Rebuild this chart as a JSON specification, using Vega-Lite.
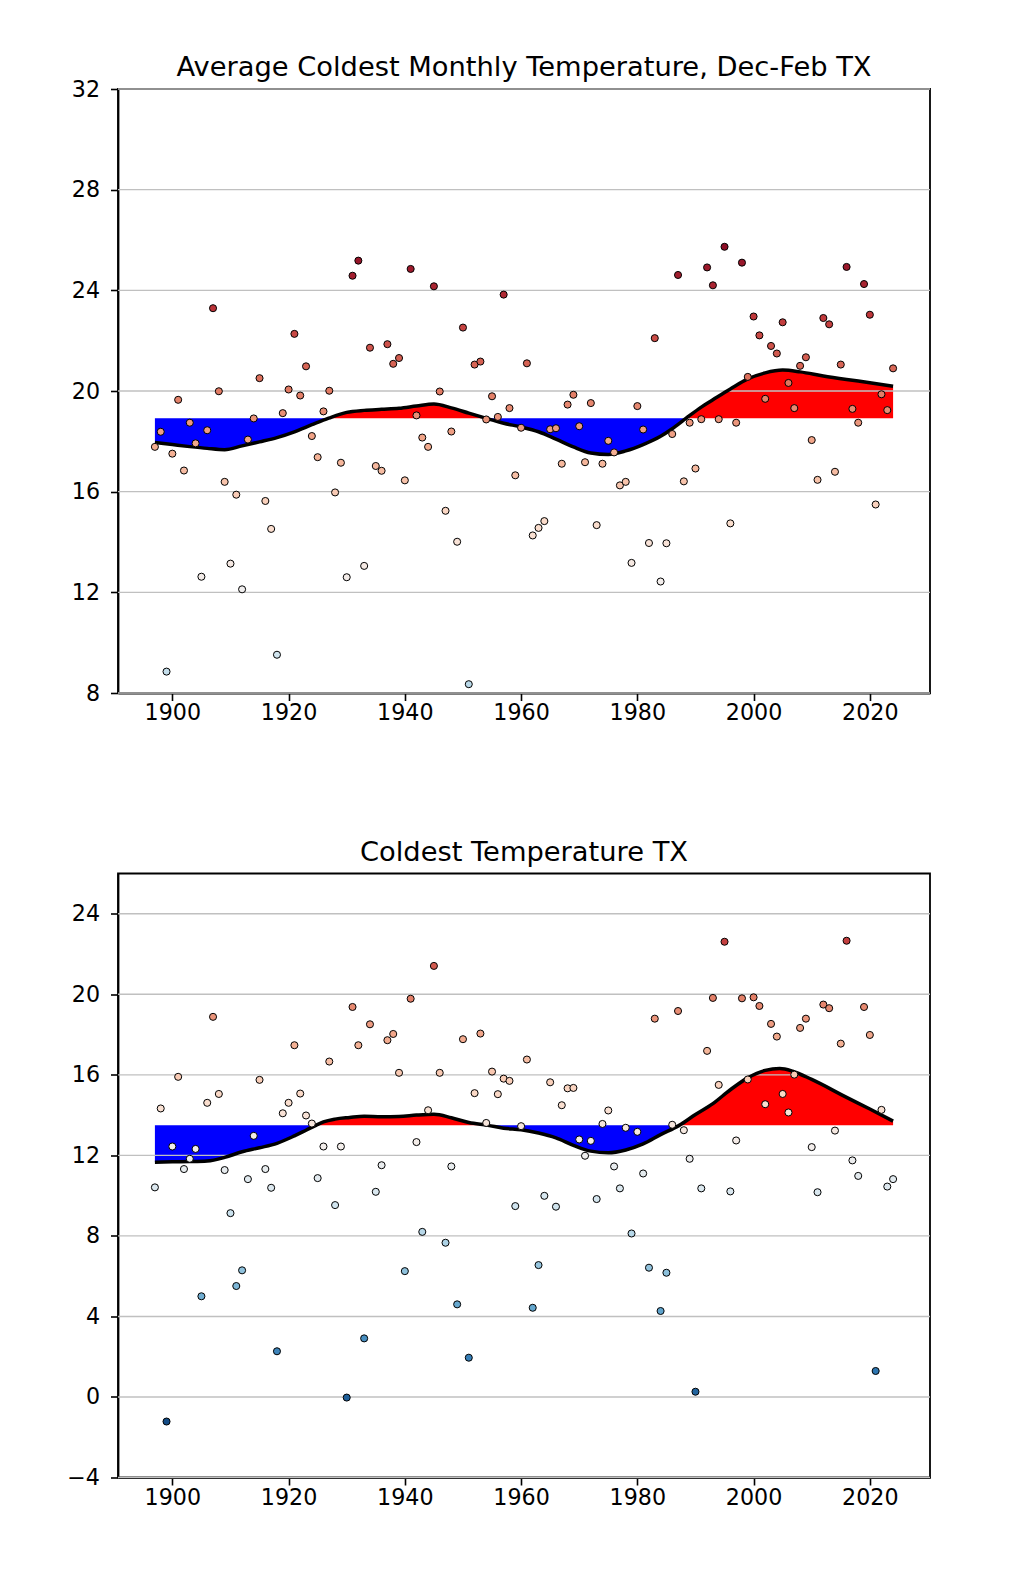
{
  "$schema": "https://vega.github.io/schema/vega-lite/v6.json",
  "background": "white",
  "padding": {"left": 65, "top": 52, "right": 10, "bottom": 10},
  "spacing": 112.5,
  "config": {
    "font": "DejaVu Sans",
    "view": {"stroke": "black", "strokeWidth": 1.8},
    "axis": {"labelFont": "DejaVu Sans", "labelFontSize": 22.2, "labelColor": "black", "tickColor": "black", "tickWidth": 1.6, "tickSize": 7.5, "domainColor": "black", "domainWidth": 1.8, "grid": false},
    "axisX": {"labelPadding": 1},
    "axisY": {"labelPadding": 11},
    "title": {"font": "DejaVu Sans", "fontSize": 27.3, "fontWeight": "normal", "color": "black", "anchor": "middle", "baseline": "alphabetic"}
  },
  "datasets": {
    "top_points": [
      {"year":1897,"temp":17.78},{"year":1898,"temp":18.38},{"year":1899,"temp":8.85},{"year":1900,"temp":17.51},{"year":1901,"temp":19.65},{"year":1902,"temp":16.84},{"year":1903,"temp":18.74},{"year":1904,"temp":17.92},{"year":1905,"temp":12.62},{"year":1906,"temp":18.44},
      {"year":1907,"temp":23.29},{"year":1908,"temp":19.99},{"year":1909,"temp":16.39},{"year":1910,"temp":13.14},{"year":1911,"temp":15.88},{"year":1912,"temp":12.12},{"year":1913,"temp":18.07},{"year":1914,"temp":18.91},{"year":1915,"temp":20.51},{"year":1916,"temp":15.63},
      {"year":1917,"temp":14.52},{"year":1918,"temp":9.52},{"year":1919,"temp":19.12},{"year":1920,"temp":20.06},{"year":1921,"temp":22.27},{"year":1922,"temp":19.82},{"year":1923,"temp":20.98},{"year":1924,"temp":18.21},{"year":1925,"temp":17.37},{"year":1926,"temp":19.19},
      {"year":1927,"temp":20.01},{"year":1928,"temp":15.97},{"year":1929,"temp":17.15},{"year":1930,"temp":12.60},{"year":1931,"temp":24.58},{"year":1932,"temp":25.18},{"year":1933,"temp":13.05},{"year":1934,"temp":21.72},{"year":1935,"temp":17.02},{"year":1936,"temp":16.83},
      {"year":1937,"temp":21.86},{"year":1938,"temp":21.08},{"year":1939,"temp":21.31},{"year":1940,"temp":16.45},{"year":1941,"temp":24.85},{"year":1942,"temp":19.03},{"year":1943,"temp":18.15},{"year":1944,"temp":17.78},{"year":1945,"temp":24.16},{"year":1946,"temp":19.98},
      {"year":1947,"temp":15.24},{"year":1948,"temp":18.39},{"year":1949,"temp":14.01},{"year":1950,"temp":22.52},{"year":1951,"temp":8.35},{"year":1952,"temp":21.05},{"year":1953,"temp":21.17},{"year":1954,"temp":18.87},{"year":1955,"temp":19.79},{"year":1956,"temp":18.97},
      {"year":1957,"temp":23.83},{"year":1958,"temp":19.32},{"year":1959,"temp":16.65},{"year":1960,"temp":18.54},{"year":1961,"temp":21.10},{"year":1962,"temp":14.26},{"year":1963,"temp":14.56},{"year":1964,"temp":14.83},{"year":1965,"temp":18.48},{"year":1966,"temp":18.52},
      {"year":1967,"temp":17.11},{"year":1968,"temp":19.46},{"year":1969,"temp":19.85},{"year":1970,"temp":18.60},{"year":1971,"temp":17.17},{"year":1972,"temp":19.52},{"year":1973,"temp":14.67},{"year":1974,"temp":17.11},{"year":1975,"temp":18.02},{"year":1976,"temp":17.56},
      {"year":1977,"temp":16.25},{"year":1978,"temp":16.39},{"year":1979,"temp":13.17},{"year":1980,"temp":19.40},{"year":1981,"temp":18.47},{"year":1982,"temp":13.96},{"year":1983,"temp":22.10},{"year":1984,"temp":12.43},{"year":1985,"temp":13.95},{"year":1986,"temp":18.29},
      {"year":1987,"temp":24.61},{"year":1988,"temp":16.41},{"year":1989,"temp":18.74},{"year":1990,"temp":16.92},{"year":1991,"temp":18.88},{"year":1992,"temp":24.91},{"year":1993,"temp":24.20},{"year":1994,"temp":18.88},{"year":1995,"temp":25.73},{"year":1996,"temp":14.74},
      {"year":1997,"temp":18.74},{"year":1998,"temp":25.10},{"year":1999,"temp":20.56},{"year":2000,"temp":22.96},{"year":2001,"temp":22.21},{"year":2002,"temp":19.69},{"year":2003,"temp":21.79},{"year":2004,"temp":21.49},{"year":2005,"temp":22.73},{"year":2006,"temp":20.32},
      {"year":2007,"temp":19.32},{"year":2008,"temp":21.00},{"year":2009,"temp":21.34},{"year":2010,"temp":18.05},{"year":2011,"temp":16.47},{"year":2012,"temp":22.90},{"year":2013,"temp":22.65},{"year":2014,"temp":16.79},{"year":2015,"temp":21.05},{"year":2016,"temp":24.93},
      {"year":2017,"temp":19.29},{"year":2018,"temp":18.74},{"year":2019,"temp":24.25},{"year":2020,"temp":23.03},{"year":2021,"temp":15.49},{"year":2022,"temp":19.87},{"year":2023,"temp":19.24},{"year":2024,"temp":20.90}
    ],
    "top_smooth": [
      {"year":1897,"smooth":17.95,"normal":18.92},{"year":1900,"smooth":17.87,"normal":18.92},{"year":1903,"smooth":17.79,"normal":18.92},{"year":1906,"smooth":17.72,"normal":18.92},{"year":1909,"smooth":17.67,"normal":18.92},{"year":1912,"smooth":17.82,"normal":18.92},{"year":1915,"smooth":17.98,"normal":18.92},{"year":1918,"smooth":18.15,"normal":18.92},{"year":1921,"smooth":18.38,"normal":18.92},{"year":1924,"smooth":18.66,"normal":18.92},
      {"year":1926.9,"smooth":18.92,"normal":18.92},{"year":1930,"smooth":19.15,"normal":18.92},{"year":1933,"smooth":19.23,"normal":18.92},{"year":1936,"smooth":19.27,"normal":18.92},{"year":1939,"smooth":19.31,"normal":18.92},{"year":1942,"smooth":19.40,"normal":18.92},{"year":1945,"smooth":19.48,"normal":18.92},{"year":1948,"smooth":19.33,"normal":18.92},{"year":1951,"smooth":19.12,"normal":18.92},{"year":1953.9,"smooth":18.92,"normal":18.92},
      {"year":1957,"smooth":18.72,"normal":18.92},{"year":1960,"smooth":18.57,"normal":18.92},{"year":1963,"smooth":18.38,"normal":18.92},{"year":1966,"smooth":18.09,"normal":18.92},{"year":1969,"smooth":17.78,"normal":18.92},{"year":1972,"smooth":17.54,"normal":18.92},{"year":1975,"smooth":17.48,"normal":18.92},{"year":1978,"smooth":17.62,"normal":18.92},{"year":1981,"smooth":17.87,"normal":18.92},{"year":1984,"smooth":18.20,"normal":18.92},
      {"year":1986,"smooth":18.50,"normal":18.92},{"year":1988.4,"smooth":18.92,"normal":18.92},{"year":1991,"smooth":19.36,"normal":18.92},{"year":1993,"smooth":19.65,"normal":18.92},{"year":1996,"smooth":20.08,"normal":18.92},{"year":1999,"smooth":20.48,"normal":18.92},{"year":2002,"smooth":20.72,"normal":18.92},{"year":2005,"smooth":20.83,"normal":18.92},{"year":2008,"smooth":20.76,"normal":18.92},{"year":2012,"smooth":20.60,"normal":18.92},
      {"year":2016,"smooth":20.46,"normal":18.92},{"year":2020,"smooth":20.33,"normal":18.92},{"year":2024,"smooth":20.19,"normal":18.92}
    ],
    "top_grid": [{"t":8},{"t":12},{"t":16},{"t":20},{"t":24},{"t":28},{"t":32}],
    "bottom_points": [
      {"year":1897,"temp":10.41},{"year":1898,"temp":14.33},{"year":1899,"temp":-1.22},{"year":1900,"temp":12.44},{"year":1901,"temp":15.90},{"year":1902,"temp":11.32},{"year":1903,"temp":11.83},{"year":1904,"temp":12.32},{"year":1905,"temp":5.00},{"year":1906,"temp":14.61},
      {"year":1907,"temp":18.88},{"year":1908,"temp":15.05},{"year":1909,"temp":11.27},{"year":1910,"temp":9.13},{"year":1911,"temp":5.51},{"year":1912,"temp":6.29},{"year":1913,"temp":10.82},{"year":1914,"temp":12.97},{"year":1915,"temp":15.75},{"year":1916,"temp":11.32},
      {"year":1917,"temp":10.39},{"year":1918,"temp":2.27},{"year":1919,"temp":14.09},{"year":1920,"temp":14.61},{"year":1921,"temp":17.47},{"year":1922,"temp":15.07},{"year":1923,"temp":13.98},{"year":1924,"temp":13.58},{"year":1925,"temp":10.87},{"year":1926,"temp":12.44},
      {"year":1927,"temp":16.66},{"year":1928,"temp":9.53},{"year":1929,"temp":12.44},{"year":1930,"temp":-0.03},{"year":1931,"temp":19.37},{"year":1932,"temp":17.47},{"year":1933,"temp":2.91},{"year":1934,"temp":18.51},{"year":1935,"temp":10.19},{"year":1936,"temp":11.51},
      {"year":1937,"temp":17.72},{"year":1938,"temp":18.03},{"year":1939,"temp":16.10},{"year":1940,"temp":6.25},{"year":1941,"temp":19.78},{"year":1942,"temp":12.66},{"year":1943,"temp":8.20},{"year":1944,"temp":14.24},{"year":1945,"temp":21.41},{"year":1946,"temp":16.10},
      {"year":1947,"temp":7.66},{"year":1948,"temp":11.45},{"year":1949,"temp":4.60},{"year":1950,"temp":17.77},{"year":1951,"temp":1.95},{"year":1952,"temp":15.09},{"year":1953,"temp":18.05},{"year":1954,"temp":13.61},{"year":1955,"temp":16.16},{"year":1956,"temp":15.04},
      {"year":1957,"temp":15.81},{"year":1958,"temp":15.70},{"year":1959,"temp":9.48},{"year":1960,"temp":13.45},{"year":1961,"temp":16.76},{"year":1962,"temp":4.43},{"year":1963,"temp":6.55},{"year":1964,"temp":9.99},{"year":1965,"temp":15.63},{"year":1966,"temp":9.45},
      {"year":1967,"temp":14.49},{"year":1968,"temp":15.33},{"year":1969,"temp":15.35},{"year":1970,"temp":12.79},{"year":1971,"temp":11.98},{"year":1972,"temp":12.72},{"year":1973,"temp":9.83},{"year":1974,"temp":13.56},{"year":1975,"temp":14.23},{"year":1976,"temp":11.45},
      {"year":1977,"temp":10.36},{"year":1978,"temp":13.37},{"year":1979,"temp":8.12},{"year":1980,"temp":13.17},{"year":1981,"temp":11.10},{"year":1982,"temp":6.42},{"year":1983,"temp":18.79},{"year":1984,"temp":4.27},{"year":1985,"temp":6.17},{"year":1986,"temp":13.52},
      {"year":1987,"temp":19.17},{"year":1988,"temp":13.25},{"year":1989,"temp":11.83},{"year":1990,"temp":0.26},{"year":1991,"temp":10.36},{"year":1992,"temp":17.19},{"year":1993,"temp":19.82},{"year":1994,"temp":15.50},{"year":1995,"temp":22.61},{"year":1996,"temp":10.21},
      {"year":1997,"temp":12.74},{"year":1998,"temp":19.80},{"year":1999,"temp":15.77},{"year":2000,"temp":19.85},{"year":2001,"temp":19.42},{"year":2002,"temp":14.54},{"year":2003,"temp":18.53},{"year":2004,"temp":17.90},{"year":2005,"temp":15.05},{"year":2006,"temp":14.13},
      {"year":2007,"temp":16.01},{"year":2008,"temp":18.33},{"year":2009,"temp":18.79},{"year":2010,"temp":12.41},{"year":2011,"temp":10.17},{"year":2012,"temp":19.49},{"year":2013,"temp":19.31},{"year":2014,"temp":13.23},{"year":2015,"temp":17.55},{"year":2016,"temp":22.66},
      {"year":2017,"temp":11.75},{"year":2018,"temp":10.98},{"year":2019,"temp":19.37},{"year":2020,"temp":17.98},{"year":2021,"temp":1.29},{"year":2022,"temp":14.26},{"year":2023,"temp":10.45},{"year":2024,"temp":10.82}
    ],
    "bottom_smooth": [
      {"year":1897,"smooth":11.66,"normal":13.49},{"year":1900,"smooth":11.68,"normal":13.49},{"year":1903,"smooth":11.69,"normal":13.49},{"year":1906,"smooth":11.72,"normal":13.49},{"year":1909,"smooth":11.90,"normal":13.49},{"year":1912,"smooth":12.18,"normal":13.49},{"year":1915,"smooth":12.38,"normal":13.49},{"year":1918,"smooth":12.60,"normal":13.49},{"year":1921,"smooth":12.97,"normal":13.49},{"year":1923,"smooth":13.25,"normal":13.49},
      {"year":1924.7,"smooth":13.49,"normal":13.49},{"year":1926,"smooth":13.66,"normal":13.49},{"year":1928,"smooth":13.80,"normal":13.49},{"year":1930.5,"smooth":13.88,"normal":13.49},{"year":1933,"smooth":13.94,"normal":13.49},{"year":1936,"smooth":13.92,"normal":13.49},{"year":1939,"smooth":13.93,"normal":13.49},{"year":1942,"smooth":14.00,"normal":13.49},{"year":1945,"smooth":14.04,"normal":13.49},{"year":1948,"smooth":13.87,"normal":13.49},
      {"year":1951,"smooth":13.63,"normal":13.49},{"year":1954.3,"smooth":13.49,"normal":13.49},{"year":1957,"smooth":13.35,"normal":13.49},{"year":1960,"smooth":13.27,"normal":13.49},{"year":1963,"smooth":13.11,"normal":13.49},{"year":1966,"smooth":12.87,"normal":13.49},{"year":1969,"smooth":12.50,"normal":13.49},{"year":1972,"smooth":12.21,"normal":13.49},{"year":1975,"smooth":12.13,"normal":13.49},{"year":1978,"smooth":12.27,"normal":13.49},
      {"year":1981,"smooth":12.57,"normal":13.49},{"year":1984,"smooth":13.03,"normal":13.49},{"year":1987.2,"smooth":13.49,"normal":13.49},{"year":1990,"smooth":14.03,"normal":13.49},{"year":1993,"smooth":14.57,"normal":13.49},{"year":1996,"smooth":15.26,"normal":13.49},{"year":1999,"smooth":15.85,"normal":13.49},{"year":2002,"smooth":16.22,"normal":13.49},{"year":2004.5,"smooth":16.31,"normal":13.49},{"year":2006.7,"smooth":16.18,"normal":13.49},
      {"year":2010,"smooth":15.77,"normal":13.49},{"year":2016,"smooth":14.88,"normal":13.49},{"year":2020,"smooth":14.30,"normal":13.49},{"year":2024,"smooth":13.70,"normal":13.49}
    ],
    "bottom_grid": [{"t":-4},{"t":0},{"t":4},{"t":8},{"t":12},{"t":16},{"t":20},{"t":24}]
  },
  "vconcat": [
    {
      "title": {"text": "Average Coldest Monthly Temperature, Dec-Feb TX", "offset": -3},
      "width": 812,
      "height": 604,
      "layer": [
        {
          "data": {"name": "top_smooth"},
          "transform": [{"calculate": "max(datum.smooth, datum.normal)", "as": "hi"}],
          "mark": {"type": "area", "color": "#ff0000", "interpolate": "monotone"},
          "encoding": {
            "x": {"field": "year", "type": "quantitative", "title": null, "scale": {"domain": [1890.65, 2030.35], "nice": false, "zero": false}, "axis": {"values": [1900, 1920, 1940, 1960, 1980, 2000, 2020], "format": "d"}},
            "y": {"field": "hi", "type": "quantitative", "title": null, "scale": {"domain": [8, 32], "nice": false, "zero": false}, "axis": {"values": [8, 12, 16, 20, 24, 28, 32]}},
            "y2": {"field": "normal"}
          }
        },
        {
          "data": {"name": "top_smooth"},
          "transform": [{"calculate": "min(datum.smooth, datum.normal)", "as": "lo"}],
          "mark": {"type": "area", "color": "#0000ff", "interpolate": "monotone"},
          "encoding": {
            "x": {"field": "year", "type": "quantitative", "title": null},
            "y": {"field": "lo", "type": "quantitative", "title": null},
            "y2": {"field": "normal"}
          }
        },
        {
          "data": {"name": "top_grid"},
          "mark": {"type": "rule", "color": "#c0c0c0", "strokeWidth": 1.4},
          "encoding": {"y": {"field": "t", "type": "quantitative", "title": null}}
        },
        {
          "data": {"name": "top_smooth"},
          "mark": {"type": "line", "color": "black", "strokeWidth": 3.5, "interpolate": "monotone"},
          "encoding": {
            "x": {"field": "year", "type": "quantitative", "title": null},
            "y": {"field": "smooth", "type": "quantitative", "title": null}
          }
        },
        {
          "data": {"name": "top_points"},
          "mark": {"type": "point", "shape": "circle", "filled": true, "size": 50, "stroke": "black", "strokeWidth": 1, "opacity": 1},
          "encoding": {
            "x": {"field": "year", "type": "quantitative", "title": null},
            "y": {"field": "temp", "type": "quantitative", "title": null},
            "fill": {"field": "temp", "type": "quantitative", "scale": {"scheme": "redblue", "reverse": true}, "legend": null}
          }
        }
      ]
    },
    {
      "title": {"text": "Coldest Temperature TX", "offset": 7.5},
      "width": 812,
      "height": 604,
      "layer": [
        {
          "data": {"name": "bottom_smooth"},
          "transform": [{"calculate": "max(datum.smooth, datum.normal)", "as": "hi"}],
          "mark": {"type": "area", "color": "#ff0000", "interpolate": "monotone"},
          "encoding": {
            "x": {"field": "year", "type": "quantitative", "title": null, "scale": {"domain": [1890.65, 2030.35], "nice": false, "zero": false}, "axis": {"values": [1900, 1920, 1940, 1960, 1980, 2000, 2020], "format": "d"}},
            "y": {"field": "hi", "type": "quantitative", "title": null, "scale": {"domain": [-4, 26], "nice": false, "zero": false}, "axis": {"values": [-4, 0, 4, 8, 12, 16, 20, 24]}},
            "y2": {"field": "normal"}
          }
        },
        {
          "data": {"name": "bottom_smooth"},
          "transform": [{"calculate": "min(datum.smooth, datum.normal)", "as": "lo"}],
          "mark": {"type": "area", "color": "#0000ff", "interpolate": "monotone"},
          "encoding": {
            "x": {"field": "year", "type": "quantitative", "title": null},
            "y": {"field": "lo", "type": "quantitative", "title": null},
            "y2": {"field": "normal"}
          }
        },
        {
          "data": {"name": "bottom_grid"},
          "mark": {"type": "rule", "color": "#c0c0c0", "strokeWidth": 1.4},
          "encoding": {"y": {"field": "t", "type": "quantitative", "title": null}}
        },
        {
          "data": {"name": "bottom_smooth"},
          "mark": {"type": "line", "color": "black", "strokeWidth": 3.5, "interpolate": "monotone"},
          "encoding": {
            "x": {"field": "year", "type": "quantitative", "title": null},
            "y": {"field": "smooth", "type": "quantitative", "title": null}
          }
        },
        {
          "data": {"name": "bottom_points"},
          "mark": {"type": "point", "shape": "circle", "filled": true, "size": 50, "stroke": "black", "strokeWidth": 1, "opacity": 1},
          "encoding": {
            "x": {"field": "year", "type": "quantitative", "title": null},
            "y": {"field": "temp", "type": "quantitative", "title": null},
            "fill": {"field": "temp", "type": "quantitative", "scale": {"scheme": "redblue", "reverse": true}, "legend": null}
          }
        }
      ]
    }
  ]
}
